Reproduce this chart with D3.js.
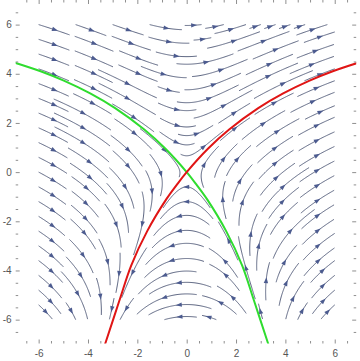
<!DOCTYPE html>
<html>
<head>
<script src="https://d3js.org/d3.v7.min.js"></script>
<style>
  body { margin: 0; background: #fff; }
  text { font-family: "Liberation Sans", "DejaVu Sans", sans-serif; }
</style>
</head>
<body>
<script>
// axes
var xTicks = [-6, -4, -2, 0, 2, 4, 6];
var yTicks = [-6, -4, -2, 0, 2, 4, 6];
var xRange = [-6.93, 6.87];
var yRange = [-6.97, 6.98];
var streamBox = [-6, 6];

// vector field  x' = y + a x^2 + c y^2 ,  y' = x (k2 + d y)
var fieldCoef = [0.475, 0.0, 1.5, -0.05];

// unstable manifold (red) and stable manifold (green)
var redX = [-3.40, -3.31, -2.72, -2.25, -1.60, -0.83, -0.39, 0, 0.86, 1.72, 2.90, 3.91, 4.98, 5.92, 6.93, 7.30];
var redY = [-7.25, -7.00, -5.20, -3.80, -2.40, -1.11, -0.50, 0, 0.95, 1.73, 2.60, 3.20, 3.72, 4.10, 4.44, 4.55];
var greenX = [-7.30, -6.93, -5.92, -4.98, -3.91, -2.90, -1.72, -0.86, 0, 0.39, 0.83, 1.60, 2.25, 2.72, 3.31, 3.40];
var greenY = [4.55, 4.44, 4.10, 3.72, 3.20, 2.60, 1.73, 0.95, 0, -0.50, -1.11, -2.40, -3.80, -5.20, -7.00, -7.25];

var width = 360, height = 361;
var x = d3.scaleLinear().domain(xRange).range([15.7, 356.2]);
var y = d3.scaleLinear().domain(yRange).range([343.5, 0.5]);

var svg = d3.select("body").append("svg")
    .attr("width", width)
    .attr("height", height);

svg.append("defs").append("clipPath").attr("id", "frame")
  .append("rect")
    .attr("x", x(xRange[0])).attr("y", y(yRange[1]))
    .attr("width", x(xRange[1]) - x(xRange[0]))
    .attr("height", y(yRange[0]) - y(yRange[1]));

// ---- streamlines ----
function vel(px, py) {
  var a = fieldCoef[0], c = fieldCoef[1], k2 = fieldCoef[2], d = fieldCoef[3];
  return [py + a * px * px + c * py * py, px * (k2 + d * py)];
}
function dir(px, py, sgn) {
  var v = vel(px, py), m = Math.hypot(v[0], v[1]);
  if (m < 1e-9) return null;
  return [sgn * v[0] / m, sgn * v[1] / m];
}
function step(p, h, sgn) {
  var k1 = dir(p[0], p[1], sgn); if (!k1) return null;
  var k2 = dir(p[0] + h / 2 * k1[0], p[1] + h / 2 * k1[1], sgn); if (!k2) return null;
  var k3 = dir(p[0] + h / 2 * k2[0], p[1] + h / 2 * k2[1], sgn); if (!k3) return null;
  var k4 = dir(p[0] + h * k3[0], p[1] + h * k3[1], sgn); if (!k4) return null;
  return [p[0] + h / 6 * (k1[0] + 2 * k2[0] + 2 * k3[0] + k4[0]),
          p[1] + h / 6 * (k1[1] + 2 * k2[1] + 2 * k3[1] + k4[1])];
}

var dsep = 0.42, dtest = 0.21, ds = 0.04, maxHalf = 1.3;
var cells = new Map();
function cellKey(i, j) { return i + "," + j; }
function addPoint(p, id) {
  var k = cellKey(Math.floor(p[0] / dsep), Math.floor(p[1] / dsep));
  if (!cells.has(k)) cells.set(k, []);
  cells.get(k).push([p[0], p[1], id]);
}
function tooClose(p, id, r) {
  var ci = Math.floor(p[0] / dsep), cj = Math.floor(p[1] / dsep);
  for (var i = ci - 1; i <= ci + 1; i++) {
    for (var j = cj - 1; j <= cj + 1; j++) {
      var list = cells.get(cellKey(i, j));
      if (!list) continue;
      for (var n = 0; n < list.length; n++) {
        var q = list[n];
        if (q[2] === id) continue;
        if (Math.hypot(q[0] - p[0], q[1] - p[1]) < r) return true;
      }
    }
  }
  return false;
}
function inBox(p) {
  return p[0] >= streamBox[0] && p[0] <= streamBox[1] && p[1] >= streamBox[0] && p[1] <= streamBox[1];
}
function trace(seed, sgn, id) {
  var pts = [], p = seed, len = 0;
  while (len < maxHalf) {
    var q = step(p, ds, sgn);
    if (!q || !inBox(q) || tooClose(q, id, dtest)) break;
    pts.push(q); p = q; len += ds;
  }
  return pts;
}

var lines = [];
var seedStep = 0.3;
for (var sy = streamBox[1]; sy >= streamBox[0] - 1e-9; sy -= seedStep) {
  for (var sx = streamBox[0]; sx <= streamBox[1] + 1e-9; sx += seedStep) {
    var seed = [sx, sy];
    if (tooClose(seed, -1, dsep)) continue;
    var id = lines.length;
    var fwd = trace(seed, 1, id);
    var bwd = trace(seed, -1, id);
    var pts = bwd.reverse().concat([seed], fwd);
    if (pts.length * ds < 0.5) continue;
    pts.forEach(function(p) { addPoint(p, id); });
    lines.push(pts);
  }
}

var line = d3.line().x(function(d) { return x(d[0]); }).y(function(d) { return y(d[1]); });

var gStream = svg.append("g");
gStream.selectAll("path.stream")
  .data(lines)
  .enter().append("path")
    .attr("class", "stream")
    .attr("d", line)
    .attr("fill", "none")
    .attr("stroke", "#5b6480")
    .attr("stroke-width", 1);

gStream.selectAll("path.head")
  .data(lines)
  .enter().append("path")
    .attr("class", "head")
    .attr("fill", "#4c5b8f")
    .attr("d", function(pts) {
      var m = Math.floor(pts.length / 2);
      var a = pts[Math.max(m - 1, 0)], b = pts[Math.min(m + 1, pts.length - 1)];
      var cx = x(pts[m][0]), cy = y(pts[m][1]);
      var dx = x(b[0]) - x(a[0]), dy = y(b[1]) - y(a[1]);
      var n = Math.hypot(dx, dy) || 1; dx /= n; dy /= n;
      var tip = [cx + dx * 3.5, cy + dy * 3.5];
      var l = [cx - dx * 2.5 - dy * 2.2, cy - dy * 2.5 + dx * 2.2];
      var r = [cx - dx * 2.5 + dy * 2.2, cy - dy * 2.5 - dx * 2.2];
      return "M" + tip + "L" + l + "L" + r + "Z";
    });

// ---- manifolds ----
var curve = d3.line().curve(d3.curveCatmullRom)
  .x(function(d) { return x(d[0]); }).y(function(d) { return y(d[1]); });
var gCurves = svg.append("g").attr("clip-path", "url(#frame)");
gCurves.append("path")
  .datum(greenX.map(function(v, i) { return [v, greenY[i]]; }))
  .attr("d", curve).attr("fill", "none").attr("stroke", "#2fdc2f").attr("stroke-width", 2);
gCurves.append("path")
  .datum(redX.map(function(v, i) { return [v, redY[i]]; }))
  .attr("d", curve).attr("fill", "none").attr("stroke", "#e01515").attr("stroke-width", 2);

// ---- frame and ticks ----
var frameColor = "#8f8f8f";
function fmt(d) { return d < 0 ? "-" + (-d) : String(d); }
var minorX = d3.range(-6.5, 7, 0.5).filter(function(v) { return v % 2 !== 0; });
var minorY = minorX;

function styleAxis(g) {
  g.select(".domain").remove();
  g.selectAll("line").attr("stroke", frameColor);
  g.selectAll("text").attr("fill", "#555").style("font-size", "10px");
}
var bottom = y(yRange[0]), top = y(yRange[1]), left = x(xRange[0]), right = x(xRange[1]);

svg.append("g").attr("transform", "translate(0," + bottom + ")")
  .call(d3.axisBottom(x).tickValues(xTicks).tickSize(-4).tickPadding(6).tickFormat(fmt)).call(styleAxis);
svg.append("g").attr("transform", "translate(0," + bottom + ")")
  .call(d3.axisBottom(x).tickValues(minorX).tickSize(-2.5).tickFormat("")).call(styleAxis);
svg.append("g").attr("transform", "translate(0," + top + ")")
  .call(d3.axisTop(x).tickValues(xTicks).tickSize(-4).tickFormat("")).call(styleAxis);
svg.append("g").attr("transform", "translate(0," + top + ")")
  .call(d3.axisTop(x).tickValues(minorX).tickSize(-2.5).tickFormat("")).call(styleAxis);
svg.append("g").attr("transform", "translate(" + left + ",0)")
  .call(d3.axisLeft(y).tickValues(yTicks).tickSize(-4).tickPadding(4).tickFormat(fmt)).call(styleAxis);
svg.append("g").attr("transform", "translate(" + left + ",0)")
  .call(d3.axisLeft(y).tickValues(minorY).tickSize(-2.5).tickFormat("")).call(styleAxis);
svg.append("g").attr("transform", "translate(" + right + ",0)")
  .call(d3.axisRight(y).tickValues(yTicks).tickSize(-4).tickFormat("")).call(styleAxis);
svg.append("g").attr("transform", "translate(" + right + ",0)")
  .call(d3.axisRight(y).tickValues(minorY).tickSize(-2.5).tickFormat("")).call(styleAxis);

svg.append("rect")
  .attr("x", left).attr("y", top)
  .attr("width", right - left).attr("height", bottom - top)
  .attr("fill", "none").attr("stroke", frameColor).attr("stroke-width", 1);
</script>
</body>
</html>
